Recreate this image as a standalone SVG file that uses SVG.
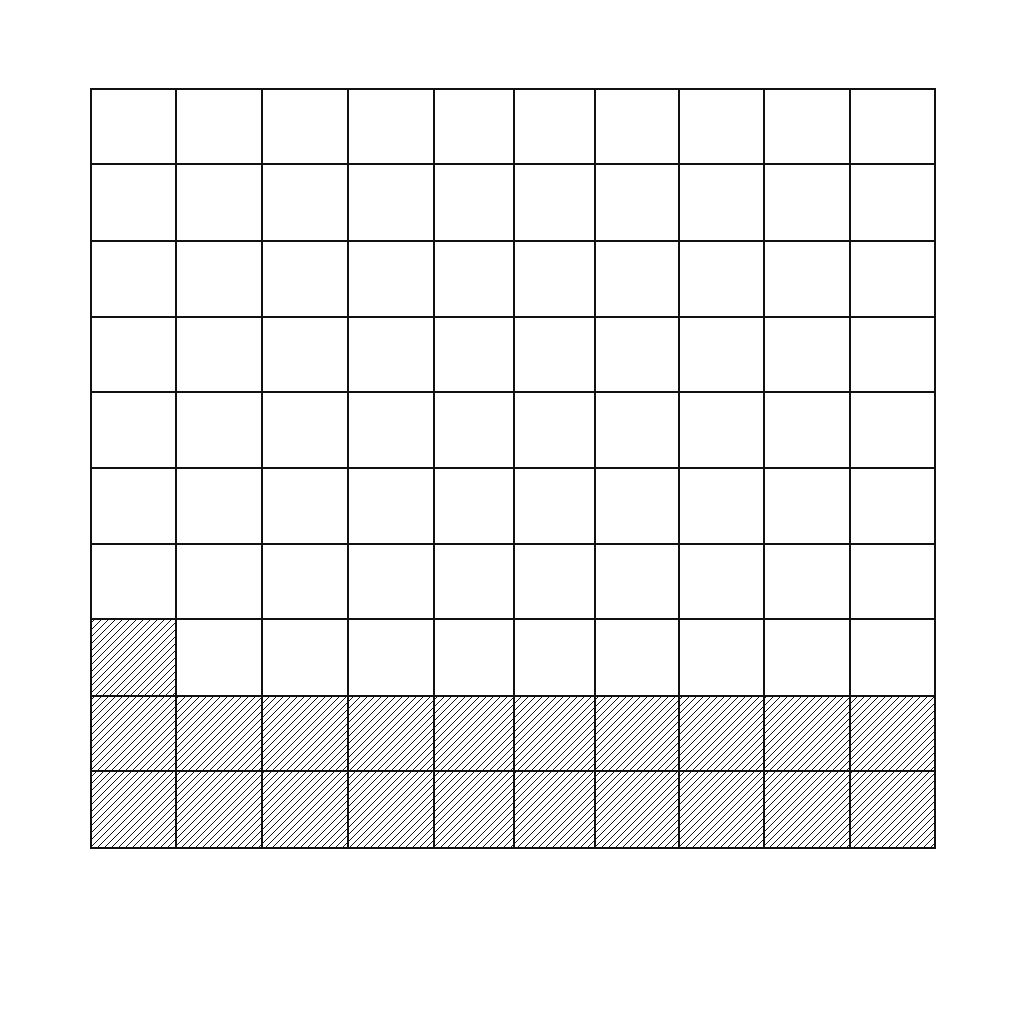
<svg xmlns="http://www.w3.org/2000/svg" width="1024" height="1024" viewBox="0 0 1024 1024">
<defs>
<pattern id="hatch" patternUnits="userSpaceOnUse" width="7" height="7">
<path d="M0,7 L7,0 M-1,1 L1,-1 M6,8 L8,6" stroke="#111" stroke-width="1" fill="none"/>
</pattern>
</defs>
<style>
.g line{stroke:#111;stroke-width:2;}
.h{fill:url(#hatch);}
</style>
<rect width="1024" height="1024" fill="#fff"/>
<g id="hatched">
<rect class="h" x="91" y="619" width="85" height="77"/>
<rect class="h" x="91" y="696" width="844" height="152"/>
</g>
<g id="grid" class="g">
<line x1="91" y1="89" x2="91" y2="848"/>
<line x1="176" y1="89" x2="176" y2="848"/>
<line x1="262" y1="89" x2="262" y2="848"/>
<line x1="348" y1="89" x2="348" y2="848"/>
<line x1="434" y1="89" x2="434" y2="848"/>
<line x1="514" y1="89" x2="514" y2="848"/>
<line x1="595" y1="89" x2="595" y2="848"/>
<line x1="679" y1="89" x2="679" y2="848"/>
<line x1="764" y1="89" x2="764" y2="848"/>
<line x1="850" y1="89" x2="850" y2="848"/>
<line x1="935" y1="89" x2="935" y2="848"/>
<line x1="90" y1="89" x2="936" y2="89"/>
<line x1="90" y1="164" x2="936" y2="164"/>
<line x1="90" y1="241" x2="936" y2="241"/>
<line x1="90" y1="317" x2="936" y2="317"/>
<line x1="90" y1="392" x2="936" y2="392"/>
<line x1="90" y1="468" x2="936" y2="468"/>
<line x1="90" y1="544" x2="936" y2="544"/>
<line x1="90" y1="619" x2="936" y2="619"/>
<line x1="90" y1="696" x2="936" y2="696"/>
<line x1="90" y1="771" x2="936" y2="771"/>
<line x1="90" y1="848" x2="936" y2="848"/>
</g>
</svg>
